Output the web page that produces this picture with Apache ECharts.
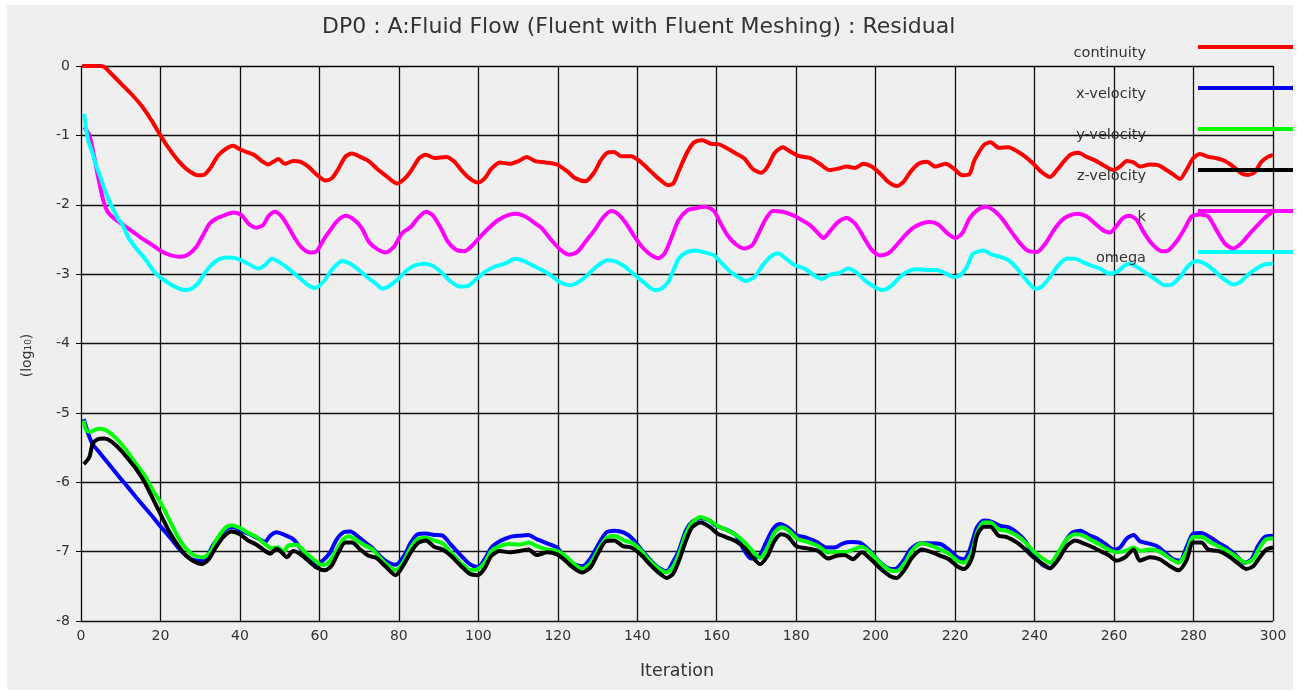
<!DOCTYPE html>
<html>
<head>
<meta charset="utf-8">
<title>Residual</title>
<script src="https://cdn.jsdelivr.net/npm/echarts@6/dist/echarts.min.js"></script>
<style>
  html, body { margin: 0; padding: 0; background: #ffffff; }
  #chart { width: 1304px; height: 693px; }
</style>
</head>
<body>
<div id="chart"></div>
<script>
// Residual history, log10 scale, as [iteration, value] pairs
const continuity = [[0.3,0],[3,0],[5,0],[6,-0.02],[7.6,-0.11],[10,-0.25],[12.6,-0.40],[15.2,-0.57],[17.7,-0.78],[20,-1.0],[21.9,-1.17],[24.4,-1.36],[26.9,-1.50],[29.5,-1.575],[31.1,-1.565],[32.8,-1.45],[34.5,-1.29],[36.6,-1.19],[38.3,-1.15],[40,-1.2],[42.1,-1.25],[43.8,-1.29],[45.5,-1.37],[47.1,-1.42],[48.4,-1.38],[49.7,-1.34],[51.3,-1.41],[53.4,-1.37],[55.1,-1.38],[57.2,-1.45],[59.3,-1.565],[61.5,-1.65],[63.1,-1.62],[64.8,-1.48],[66.5,-1.31],[68.2,-1.26],[70.3,-1.31],[72.4,-1.37],[74.5,-1.48],[76.6,-1.575],[79.6,-1.695],[81.7,-1.61],[83.4,-1.48],[85.1,-1.33],[86.8,-1.28],[88.9,-1.325],[91.9,-1.31],[94,-1.38],[95.7,-1.50],[97.8,-1.62],[99.9,-1.68],[101.6,-1.62],[103.3,-1.48],[105.4,-1.39],[107.9,-1.41],[110.1,-1.37],[112.2,-1.31],[114.3,-1.37],[116.9,-1.39],[119.8,-1.42],[122.4,-1.52],[124.5,-1.62],[127,-1.66],[129.2,-1.53],[130.8,-1.36],[132.5,-1.25],[134.2,-1.24],[135.9,-1.30],[138.5,-1.30],[140.6,-1.37],[142.7,-1.48],[145.3,-1.62],[147.8,-1.72],[149.1,-1.69],[150.4,-1.52],[152.6,-1.24],[154.3,-1.10],[156.4,-1.07],[158.5,-1.12],[160.6,-1.13],[162.7,-1.19],[164.8,-1.26],[166.9,-1.33],[169,-1.48],[171.1,-1.54],[172.8,-1.45],[174.5,-1.26],[176.6,-1.17],[178.7,-1.24],[180.8,-1.30],[183.4,-1.325],[185.9,-1.41],[188.4,-1.50],[190.5,-1.48],[192.7,-1.45],[194.8,-1.47],[196.9,-1.41],[199,-1.45],[201.1,-1.55],[203.2,-1.67],[205.3,-1.73],[207,-1.67],[208.7,-1.53],[210.8,-1.41],[212.9,-1.38],[215,-1.45],[217.6,-1.41],[219.7,-1.48],[221.8,-1.575],[223.6,-1.56],[224.7,-1.38],[225.5,-1.29],[227.2,-1.14],[228.9,-1.10],[231,-1.18],[233.5,-1.17],[235.6,-1.23],[237.7,-1.31],[239.7,-1.41],[241.8,-1.53],[243.9,-1.60],[245.6,-1.50],[247.3,-1.38],[249,-1.28],[251,-1.25],[253.1,-1.31],[255.2,-1.36],[257.3,-1.43],[259.8,-1.50],[261.5,-1.45],[263.2,-1.37],[264.9,-1.39],[266.5,-1.45],[269,-1.42],[271.1,-1.43],[273.2,-1.50],[275.3,-1.58],[276.6,-1.63],[278.2,-1.50],[279.9,-1.33],[281.6,-1.27],[283.7,-1.31],[285.8,-1.33],[287.9,-1.37],[290,-1.45],[292.1,-1.55],[293.7,-1.57],[295.4,-1.53],[297.1,-1.38],[298.7,-1.31],[300,-1.28]];

const xVelocity = [[0.7,-5.09],[1.7,-5.28],[2.9,-5.45],[4.2,-5.54],[5.9,-5.66],[7.6,-5.78],[9.7,-5.93],[11.8,-6.07],[13.9,-6.22],[16,-6.36],[18.1,-6.50],[20.2,-6.65],[22.3,-6.79],[24.4,-6.94],[26.5,-7.06],[28.2,-7.12],[29.9,-7.13],[31.6,-7.08],[33.2,-6.91],[34.9,-6.77],[36.6,-6.67],[38.3,-6.65],[40.4,-6.70],[42.5,-6.75],[44.6,-6.81],[46.3,-6.86],[47.6,-6.77],[49.2,-6.72],[51.3,-6.76],[53.4,-6.82],[55.1,-6.94],[57.2,-7.08],[59.3,-7.18],[61,-7.12],[62.7,-7.01],[64.4,-6.82],[66.1,-6.72],[67.8,-6.71],[69.9,-6.79],[71.6,-6.87],[73.2,-6.94],[74.5,-7.02],[76.6,-7.13],[79.2,-7.19],[81.3,-7.06],[83,-6.87],[84.7,-6.75],[86.8,-6.74],[88.9,-6.76],[91,-6.77],[93.1,-6.90],[95.7,-7.06],[97.8,-7.18],[99.9,-7.22],[101.6,-7.11],[103.3,-6.94],[105.4,-6.85],[107.9,-6.79],[110.5,-6.77],[112.6,-6.76],[114.7,-6.82],[117.3,-6.88],[119.8,-6.94],[121.9,-7.09],[124.1,-7.18],[126.2,-7.21],[128.3,-7.09],[130,-6.92],[132.1,-6.73],[134.2,-6.70],[136.8,-6.73],[138.9,-6.82],[141,-6.97],[143.1,-7.11],[145.3,-7.23],[147.4,-7.28],[149,-7.15],[150.5,-6.98],[152.2,-6.70],[153.8,-6.57],[155.9,-6.52],[158.1,-6.55],[159.7,-6.62],[162.3,-6.68],[164.8,-6.76],[166.5,-6.94],[168.6,-7.10],[170.7,-7.06],[172.4,-6.87],[174.1,-6.68],[175.8,-6.60],[177.9,-6.65],[180,-6.76],[182.5,-6.80],[185.1,-6.86],[187.6,-6.94],[189.7,-6.94],[191.8,-6.88],[193.9,-6.86],[196,-6.87],[198.6,-6.99],[200.7,-7.13],[203.2,-7.24],[204.9,-7.25],[207,-7.13],[208.7,-6.97],[211.2,-6.88],[213.8,-6.88],[216.3,-6.89],[218.4,-6.97],[220.5,-7.08],[222.2,-7.11],[223.5,-7.0],[224.5,-6.82],[225.5,-6.65],[227.2,-6.55],[229.3,-6.57],[231.4,-6.63],[233.5,-6.65],[235.6,-6.73],[237.7,-6.85],[239.7,-7.04],[241.8,-7.18],[243.9,-7.24],[245.6,-7.09],[247.3,-6.89],[249.4,-6.73],[251.5,-6.70],[253.6,-6.76],[255.7,-6.81],[257.8,-6.89],[259.9,-6.97],[261.5,-6.94],[263.2,-6.81],[264.9,-6.76],[266.5,-6.85],[268.6,-6.88],[270.7,-6.92],[272.8,-7.01],[274.9,-7.11],[276.6,-7.13],[278.2,-6.94],[279.9,-6.74],[282,-6.73],[284.1,-6.79],[286.2,-6.87],[288.3,-6.94],[290.8,-7.06],[292.9,-7.16],[294.6,-7.11],[296.2,-6.92],[297.9,-6.79],[300,-6.77]];

const yVelocity = [[0.7,-5.11],[1.3,-5.25],[2.5,-5.27],[4.2,-5.23],[5.9,-5.24],[7.6,-5.30],[9.7,-5.42],[11.8,-5.57],[13.9,-5.74],[16,-5.90],[18.1,-6.12],[20.2,-6.31],[22.3,-6.55],[24.4,-6.79],[26.5,-6.96],[28.7,-7.06],[30.8,-7.08],[32.5,-7.01],[34.2,-6.82],[36.3,-6.66],[38,-6.62],[40,-6.66],[42.1,-6.73],[44.2,-6.79],[46.3,-6.89],[48,-6.95],[49.7,-6.94],[50.9,-7.01],[52.2,-6.91],[54.3,-6.90],[56.4,-7.01],[58.5,-7.11],[60.6,-7.19],[62.3,-7.16],[64,-7.01],[65.7,-6.84],[67.3,-6.78],[69,-6.82],[71.1,-6.90],[73.2,-6.96],[74.5,-7.04],[76.6,-7.17],[79.2,-7.27],[81.3,-7.13],[83,-6.94],[84.7,-6.82],[86.8,-6.80],[88.9,-6.84],[91,-6.88],[93.1,-7.01],[95.7,-7.17],[98.2,-7.27],[99.9,-7.25],[101.6,-7.16],[103.3,-6.99],[105.4,-6.92],[107.9,-6.89],[110.5,-6.90],[112.6,-6.87],[114.7,-6.92],[117.3,-6.97],[119.8,-6.99],[121.9,-7.06],[124.1,-7.18],[126.2,-7.25],[128.3,-7.16],[130,-6.99],[132.1,-6.81],[134.2,-6.77],[136.8,-6.84],[138.9,-6.88],[141,-6.99],[143.1,-7.13],[145.3,-7.24],[147.4,-7.30],[149,-7.22],[150.5,-7.03],[152.2,-6.75],[153.8,-6.58],[155.9,-6.50],[158.1,-6.55],[160.2,-6.63],[162.3,-6.68],[164.8,-6.76],[166.9,-6.86],[169,-6.99],[170.9,-7.09],[172.8,-6.94],[174.5,-6.73],[176.2,-6.65],[177.9,-6.69],[180.4,-6.82],[182.9,-6.86],[185.5,-6.92],[188,-7.01],[190.1,-7.0],[192.2,-7.01],[194.3,-6.97],[196.5,-6.93],[198.6,-7.01],[201.1,-7.16],[203.6,-7.27],[205.3,-7.28],[207.4,-7.16],[209.1,-6.99],[211.6,-6.88],[214.2,-6.92],[216.3,-6.97],[218.4,-7.03],[220.5,-7.13],[222.2,-7.16],[223.5,-7.09],[224.5,-6.95],[225.5,-6.73],[227.2,-6.58],[228.9,-6.58],[230.9,-6.68],[233,-6.70],[235.6,-6.77],[237.7,-6.87],[239.7,-6.99],[241.8,-7.09],[243.9,-7.16],[246,-7.01],[248.1,-6.82],[250.2,-6.75],[252.3,-6.77],[254.4,-6.84],[256.5,-6.90],[258.6,-6.97],[260.7,-7.01],[262.8,-6.99],[264.9,-6.94],[266.5,-6.99],[269,-6.97],[271.5,-7.0],[274.1,-7.10],[276.2,-7.16],[278.2,-7.01],[279.9,-6.79],[282,-6.79],[284.1,-6.86],[286.6,-6.93],[289.1,-7.01],[291.6,-7.11],[293.3,-7.16],[295,-7.11],[296.7,-6.94],[298.3,-6.82],[300,-6.81]];

const zVelocity = [[0.7,-5.74],[2.1,-5.64],[2.9,-5.45],[4.2,-5.38],[5.9,-5.37],[7.6,-5.41],[9.7,-5.52],[11.8,-5.66],[13.9,-5.81],[16,-6.00],[18.1,-6.24],[20.2,-6.48],[22.3,-6.72],[24.4,-6.91],[26.5,-7.06],[28.7,-7.15],[30.3,-7.18],[32,-7.12],[33.7,-6.96],[35.8,-6.79],[37.9,-6.71],[40,-6.75],[42.1,-6.84],[44.2,-6.90],[46.3,-6.99],[47.6,-7.03],[49.2,-6.96],[50.5,-7.01],[51.8,-7.08],[53.4,-6.99],[55.1,-7.03],[57.2,-7.13],[59.3,-7.23],[61.4,-7.27],[63.1,-7.20],[64.8,-7.01],[66.5,-6.87],[68.2,-6.87],[70.3,-6.97],[72.4,-7.06],[74.3,-7.09],[76.6,-7.21],[79.2,-7.34],[81.3,-7.18],[83,-7.01],[84.7,-6.88],[86.8,-6.84],[88.9,-6.93],[91,-6.97],[93.1,-7.06],[95.7,-7.21],[97.8,-7.32],[99.9,-7.34],[101.6,-7.24],[103.3,-7.06],[105.4,-6.99],[107.9,-7.01],[110.5,-6.99],[112.6,-6.97],[114.7,-7.05],[117.3,-7.01],[119.8,-7.04],[121.9,-7.13],[124.1,-7.24],[126.2,-7.30],[128.3,-7.22],[130,-7.04],[132.1,-6.85],[134.2,-6.84],[136.4,-6.92],[138.5,-6.94],[141,-7.05],[143.1,-7.18],[145.3,-7.30],[147.4,-7.38],[149,-7.32],[150.5,-7.13],[152.2,-6.85],[153.8,-6.65],[155.9,-6.58],[158.1,-6.64],[160.2,-6.74],[162.3,-6.79],[164.8,-6.85],[166.9,-6.94],[169,-7.08],[170.9,-7.18],[172.8,-7.06],[174.5,-6.85],[176.2,-6.75],[177.9,-6.78],[180,-6.92],[182.5,-6.95],[185.5,-6.99],[188,-7.10],[190.1,-7.06],[192.2,-7.05],[194.3,-7.11],[196.5,-7.01],[198.6,-7.10],[201.1,-7.24],[203.6,-7.35],[205.3,-7.38],[207.4,-7.25],[209.1,-7.09],[211.6,-6.97],[214.2,-7.01],[216.3,-7.06],[218.4,-7.11],[220.5,-7.21],[222.2,-7.25],[223.5,-7.18],[224.5,-7.04],[225.5,-6.77],[227.2,-6.64],[228.9,-6.64],[230.9,-6.77],[233,-6.79],[235.6,-6.87],[237.7,-6.97],[239.7,-7.08],[241.8,-7.17],[243.9,-7.24],[246,-7.11],[248.1,-6.92],[250.2,-6.84],[252.3,-6.88],[254.4,-6.93],[256.5,-6.99],[258.6,-7.05],[260.7,-7.13],[262.8,-7.08],[264.9,-6.97],[266.5,-7.13],[269,-7.08],[271.5,-7.11],[274.1,-7.21],[276.2,-7.27],[278.2,-7.13],[279.9,-6.87],[282,-6.87],[283.7,-6.97],[286.2,-6.99],[288.7,-7.06],[291.2,-7.17],[293.3,-7.25],[295,-7.21],[296.7,-7.08],[298.3,-6.97],[300,-6.94]];

const kResidual = [[0.8,-0.88],[2.1,-1.0],[3.4,-1.33],[4.2,-1.57],[5.5,-1.91],[6.7,-2.10],[8.4,-2.20],[10.1,-2.27],[12.6,-2.37],[15.2,-2.48],[17.7,-2.57],[20.2,-2.67],[22.7,-2.73],[24.8,-2.75],[26.9,-2.72],[29,-2.61],[30.7,-2.44],[32.4,-2.27],[34.1,-2.20],[36.2,-2.15],[38.3,-2.11],[40.4,-2.15],[42.1,-2.27],[44.2,-2.33],[45.9,-2.29],[47.1,-2.17],[48.8,-2.10],[50.5,-2.17],[52.2,-2.32],[53.9,-2.49],[55.6,-2.62],[57.7,-2.69],[59.3,-2.67],[61,-2.51],[62.7,-2.37],[64.4,-2.24],[66.5,-2.16],[68.6,-2.21],[70.7,-2.34],[72.4,-2.53],[74.3,-2.63],[76.6,-2.69],[78.7,-2.61],[80.8,-2.41],[83,-2.32],[84.7,-2.20],[86.8,-2.10],[88.5,-2.15],[90.6,-2.34],[92.3,-2.53],[94.4,-2.65],[96.5,-2.67],[98.6,-2.58],[100.8,-2.44],[102.9,-2.32],[105,-2.22],[107.5,-2.15],[109.7,-2.13],[111.8,-2.17],[113.9,-2.25],[116,-2.34],[118.1,-2.49],[120.7,-2.65],[122.8,-2.72],[124.9,-2.68],[127,-2.53],[129.2,-2.37],[131.3,-2.19],[133.4,-2.09],[135.1,-2.13],[137.2,-2.27],[139.3,-2.46],[141.4,-2.62],[143.6,-2.73],[145.3,-2.77],[146.9,-2.70],[148.7,-2.46],[150.4,-2.22],[152.6,-2.08],[154.7,-2.05],[157.2,-2.03],[159.3,-2.09],[161,-2.27],[162.7,-2.44],[164.8,-2.57],[166.9,-2.63],[169,-2.58],[170.7,-2.39],[172.4,-2.20],[174.1,-2.09],[176.6,-2.10],[178.7,-2.14],[180.8,-2.20],[183.4,-2.29],[185.5,-2.41],[186.8,-2.48],[188.5,-2.38],[190.5,-2.25],[192.7,-2.19],[194.8,-2.27],[196.9,-2.46],[199,-2.65],[201.1,-2.73],[203.2,-2.70],[205.3,-2.58],[207.4,-2.44],[209.5,-2.33],[211.6,-2.27],[213.7,-2.25],[215.9,-2.29],[218,-2.41],[220.1,-2.48],[221.8,-2.41],[223.6,-2.20],[225.5,-2.08],[227.6,-2.03],[229.7,-2.08],[231.8,-2.20],[233.9,-2.37],[236.4,-2.56],[238.5,-2.67],[240.6,-2.68],[242.7,-2.56],[244.8,-2.37],[246.9,-2.22],[249,-2.15],[251,-2.13],[253.1,-2.17],[255.2,-2.27],[257.3,-2.37],[259,-2.40],[260.7,-2.30],[262.3,-2.19],[264,-2.16],[265.7,-2.22],[267.4,-2.39],[269.5,-2.56],[272,-2.67],[273.6,-2.66],[275.7,-2.53],[277.8,-2.34],[279.5,-2.17],[281.6,-2.14],[283.7,-2.17],[285.8,-2.37],[287.9,-2.56],[290,-2.63],[292.1,-2.55],[294.1,-2.42],[296.2,-2.29],[298.3,-2.17],[300,-2.10]];

const omega = [[0.8,-0.69],[1.7,-1.05],[2.9,-1.26],[3.8,-1.43],[5,-1.62],[5.9,-1.77],[7.2,-1.96],[8,-2.05],[9.3,-2.20],[10.5,-2.29],[11.8,-2.46],[13.9,-2.63],[16,-2.77],[18.5,-2.97],[21,-3.09],[23.6,-3.18],[26.1,-3.23],[27.8,-3.21],[29.5,-3.13],[31.1,-2.99],[32.8,-2.87],[34.9,-2.78],[37,-2.76],[39.5,-2.78],[42.1,-2.85],[44.6,-2.92],[46.3,-2.87],[48,-2.78],[49.7,-2.82],[52.2,-2.92],[54.7,-3.04],[57.2,-3.16],[58.9,-3.20],[61,-3.11],[63.1,-2.94],[65.7,-2.81],[67.8,-2.85],[69.9,-2.94],[72.4,-3.06],[74.3,-3.14],[75.8,-3.21],[77.9,-3.16],[80,-3.06],[82.1,-2.94],[84.2,-2.87],[86.4,-2.85],[88.5,-2.88],[90.6,-2.97],[92.7,-3.09],[95.3,-3.18],[97.4,-3.17],[99.5,-3.07],[101.6,-2.97],[104.2,-2.89],[106.7,-2.85],[109.2,-2.78],[111.4,-2.81],[113.5,-2.87],[116,-2.94],[118.1,-3.01],[120.7,-3.12],[123.2,-3.16],[125.3,-3.11],[127.5,-3.01],[130,-2.88],[132.5,-2.80],[134.7,-2.82],[136.8,-2.89],[139.3,-3.01],[141.9,-3.13],[144.4,-3.23],[146.1,-3.21],[147.8,-3.11],[149.2,-2.93],[150.5,-2.77],[152.6,-2.68],[154.7,-2.66],[157.2,-2.69],[159.3,-2.73],[161.4,-2.85],[163.5,-2.97],[165.7,-3.05],[167.3,-3.10],[169.5,-3.04],[171.6,-2.87],[173.7,-2.74],[175.4,-2.70],[177.5,-2.78],[179.6,-2.87],[182.1,-2.92],[184.3,-3.01],[186.4,-3.07],[188.5,-3.01],[191,-2.98],[193.1,-2.92],[195.2,-2.98],[197.3,-3.09],[199.5,-3.18],[201.6,-3.23],[203.7,-3.18],[205.8,-3.06],[207.8,-2.97],[210,-2.93],[212.9,-2.94],[215.4,-2.94],[217.6,-2.99],[219.7,-3.04],[221.4,-3.01],[223,-2.89],[224.3,-2.72],[225.5,-2.68],[227.2,-2.66],[229.3,-2.72],[231.4,-2.75],[233.5,-2.80],[235.6,-2.92],[237.7,-3.07],[240.2,-3.21],[241.8,-3.18],[243.9,-3.04],[246,-2.87],[248.1,-2.78],[250.2,-2.78],[252.3,-2.83],[254.4,-2.88],[256.5,-2.92],[258.6,-2.99],[260.7,-2.97],[262.8,-2.87],[264,-2.85],[266.1,-2.91],[268.2,-2.99],[270.3,-3.07],[272.8,-3.16],[274.5,-3.15],[276.6,-3.04],[278.7,-2.88],[280.8,-2.81],[282.9,-2.85],[285,-2.94],[287.4,-3.06],[290,-3.15],[291.6,-3.12],[293.7,-3.01],[295.8,-2.92],[297.9,-2.86],[300,-2.85]];

const seriesNames = ['continuity', 'x-velocity', 'y-velocity', 'z-velocity', 'k', 'omega'];
const seriesData = [continuity, xVelocity, yVelocity, zVelocity, kResidual, omega];
const seriesColors = ['#ff0000', '#0000ff', '#00ff00', '#000000', '#ff00ff', '#00ffff'];

const FONT = 'DejaVu Sans';
const chart = echarts.init(document.getElementById('chart'), null, { renderer: 'canvas' });

// legend key: a 4px bar on top of a 16px-tall box, so the label sits just below the bar
const legendKey = 'path://M0,0L95,0L95,4L0,4Z M0,16L95,16';

chart.setOption({
  backgroundColor: '#ffffff',
  animation: false,
  color: seriesColors,
  graphic: [{
    type: 'rect',
    z: -10,
    silent: true,
    shape: { x: 7, y: 5, width: 1286, height: 685 },
    style: { fill: '#efefef' }
  }],
  title: {
    text: 'DP0 : A:Fluid Flow (Fluent with Fluent Meshing) : Residual',
    left: 322,
    top: 16,
    padding: 0,
    textStyle: { fontFamily: FONT, fontSize: 22, fontWeight: 'normal', color: '#333333' }
  },
  legend: {
    orient: 'vertical',
    right: 6,
    top: 40,
    align: 'right',
    icon: legendKey,
    itemWidth: 95,
    itemHeight: 16,
    itemGap: 25,
    padding: 5,
    itemStyle: { borderWidth: 0 },
    data: seriesNames,
    textStyle: { fontFamily: FONT, fontSize: 14.5, color: '#333333', padding: [0, 47, 0, 0] }
  },
  grid: { left: 81, right: 31, top: 66, bottom: 72, containLabel: false },
  xAxis: {
    type: 'value',
    min: 0,
    max: 300,
    interval: 20,
    name: 'Iteration',
    nameLocation: 'middle',
    nameGap: 41,
    nameTextStyle: { fontFamily: FONT, fontSize: 17.5, color: '#333333' },
    axisLine: { lineStyle: { color: '#000000', width: 1 } },
    axisTick: { show: true, length: 5, lineStyle: { color: '#000000' } },
    axisLabel: { fontFamily: FONT, fontSize: 14, color: '#333333', margin: 8 },
    splitLine: { show: true, lineStyle: { color: '#111111', width: 1.3 } }
  },
  yAxis: {
    type: 'value',
    min: -8,
    max: 0,
    interval: 1,
    name: '(log\u2081\u2080)',
    nameLocation: 'middle',
    nameRotate: 90,
    nameGap: 47,
    nameTextStyle: { fontFamily: FONT, fontSize: 14, color: '#333333', padding: [0, 24, 0, 0] },
    axisLine: { show: true, lineStyle: { color: '#000000', width: 1 } },
    axisTick: { show: true, length: 5, lineStyle: { color: '#000000' } },
    axisLabel: { fontFamily: FONT, fontSize: 14, color: '#333333', margin: 11 },
    splitLine: { show: true, lineStyle: { color: '#111111', width: 1.3 } }
  },
  series: seriesNames.map((name, i) => ({
    name: name,
    type: 'line',
    data: seriesData[i],
    showSymbol: false,
    symbol: 'rect',
    smooth: 0.25,
    lineStyle: { width: 4, color: seriesColors[i] },
    itemStyle: { color: seriesColors[i] },
    z: 2 + i * 0.01
  }))
});
</script>
</body>
</html>
